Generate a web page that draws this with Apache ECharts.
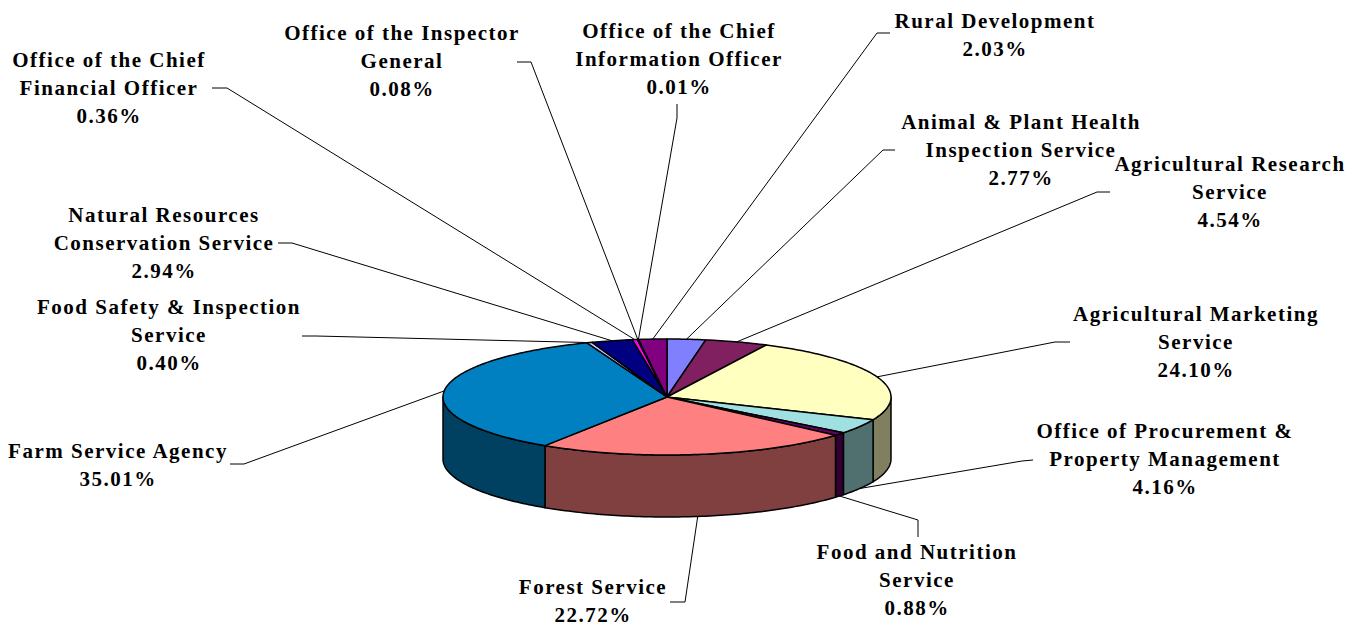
<!DOCTYPE html>
<html>
<head>
<meta charset="utf-8">
<script src="https://cdn.jsdelivr.net/npm/echarts@6/dist/echarts.min.js"></script>
<style>
html,body{margin:0;padding:0;background:#fff}
#main{width:1363px;height:628px}
#main text{letter-spacing:1.5px}
</style>
</head>
<body>
<div id="main"></div>
<script>
// ---- data (slice order clockwise from 12 o'clock) ----
const categories = [
  'Animal & Plant Health\nInspection Service',
  'Agricultural Research\nService',
  'Agricultural Marketing\nService',
  'Office of Procurement &\nProperty Management',
  'Food and Nutrition\nService',
  'Forest Service',
  'Farm Service Agency',
  'Food Safety & Inspection\nService',
  'Natural Resources\nConservation Service',
  'Office of the Chief\nFinancial Officer',
  'Office of the Inspector\nGeneral',
  'Office of the Chief\nInformation Officer',
  'Rural Development'
];
const values = [2.77, 4.54, 24.10, 4.16, 0.88, 22.72, 35.01, 0.40, 2.94, 0.36, 0.08, 0.01, 2.03];

// ---- styles / layout ----
const topColors  = ['#8080FF','#802060','#FFFFC0','#A0E0E0','#660066','#FF8080','#0080C0','#C0C0FF','#000080','#FF00FF','#FFFF00','#00FFFF','#800080'];
const sideColors = ['#404080','#401030','#808060','#507070','#330033','#804040','#004060','#606080','#000040','#800080','#808000','#008080','#400040'];
// label first-line centre [x, y]
const labelPos = [
  [1021,122],[1230,164],[1196,314],[1165,431],[917,552],[593,587],
  [118,451],[169,307],[164,215],[109,60],[402,33],[679,31],[995,21]
];
// leader stub [start, elbow]; last segment runs to the slice
const labelStubs = [
  [[895,150],[883,150]],
  [[1110,192],[1097,192]],
  [[1070,342],[1055,342]],
  [[1033,460],[1022,461]],
  [[918,537],[918,520]],
  [[670,602],[685,602]],
  [[230,464],[244,464]],
  [[302,336],[316,336]],
  [[278,243],[292,243]],
  [[212,88],[227,88]],
  [[517,62],[531,62]],
  [[677,104],[677,118]],
  [[890,33],[877,33]]
];

const CX = 667, CY = 397, RX = 224, RY = 58, DEPTH = 62;
const FONT = 'bold 21px "Liberation Serif", "Times New Roman", serif';

const total = values.reduce((a, b) => a + b, 0);
const starts = [];
let acc = 0;
values.forEach(v => { starts.push(acc); acc += v; });

function ang(p) { return p / total * 2 * Math.PI; }
function pt(t, dy) { return [CX + RX * Math.sin(t), CY - RY * Math.cos(t) + (dy || 0)]; }
function arc(a0, a1, dy) {
  const n = Math.max(1, Math.ceil((a1 - a0) / (Math.PI / 180)));
  const pts = [];
  for (let k = 0; k <= n; k++) pts.push(pt(a0 + (a1 - a0) * k / n, dy));
  return pts;
}

function renderItem(params, api) {
  const i = params.dataIndex;
  const v = api.value(0);
  const a0 = ang(starts[i]);
  const a1 = ang(starts[i] + v);
  const children = [];
  const f0 = Math.max(a0, Math.PI / 2), f1 = Math.min(a1, 1.5 * Math.PI);
  if (f1 > f0) {
    const top = arc(f0, f1, 0);
    const bot = arc(f0, f1, DEPTH).reverse();
    children.push({
      type: 'polygon', z2: 1,
      shape: { points: top.concat(bot) },
      style: { fill: sideColors[i], stroke: '#000', lineWidth: 1.5, lineJoin: 'round' }
    });
  }
  children.push({
    type: 'polygon', z2: 2,
    shape: { points: [[CX, CY]].concat(arc(a0, a1, 0)) },
    style: { fill: topColors[i], stroke: '#000', lineWidth: 1.5, lineJoin: 'round' }
  });
  const m = (a0 + a1) / 2;
  const front = m > Math.PI / 2 && m < 1.5 * Math.PI;
  const anchor = pt(m, front ? DEPTH : 0);
  const s = labelStubs[i];
  children.push({
    type: 'polyline', z2: 3,
    shape: { points: [s[0], s[1], anchor] },
    style: { stroke: '#000', lineWidth: 1, fill: 'none' }
  });
  children.push({
    type: 'text', z2: 4,
    x: labelPos[i][0], y: labelPos[i][1] - 14,
    style: {
      text: categories[i] + '\n' + v.toFixed(2) + '%',
      align: 'center', verticalAlign: 'top', lineHeight: 28,
      font: FONT, fill: '#000'
    }
  });
  return { type: 'group', children: children };
}

const chart = echarts.init(document.getElementById('main'), null, { renderer: 'svg' });
chart.setOption({
  backgroundColor: '#fff',
  animation: false,
  series: [{
    type: 'custom',
    coordinateSystem: 'none',
    renderItem: renderItem,
    data: values
  }]
});
</script>
</body>
</html>
